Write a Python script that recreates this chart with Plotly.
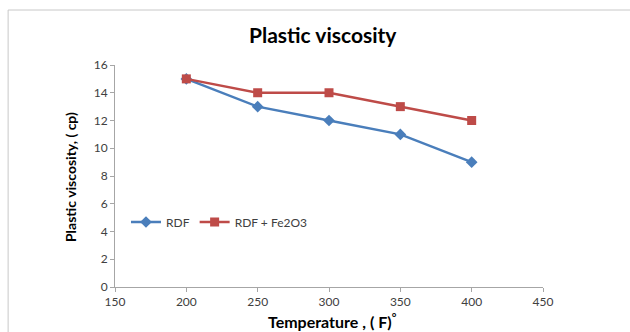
import plotly.graph_objects as go

temps = [200, 250, 300, 350, 400]
rdf = [15, 13, 12, 11, 9]
rdf_fe2o3 = [15, 14, 14, 13, 12]
series_names = ["RDF", "RDF + Fe2O3"]
y_ticks = [0, 2, 4, 6, 8, 10, 12, 14, 16]
x_ticks = [150, 200, 250, 300, 350, 400, 450]

fig = go.Figure()
fig.add_trace(go.Scatter(x=temps, y=rdf, mode="lines+markers", name=series_names[0],
                         line=dict(color="#4a7ebb", width=2.5),
                         marker=dict(symbol="diamond", size=9, color="#4a7ebb")))
fig.add_trace(go.Scatter(x=temps, y=rdf_fe2o3, mode="lines+markers", name=series_names[1],
                         line=dict(color="#be4b48", width=2.5),
                         marker=dict(symbol="square", size=9, color="#be4b48")))

L, R, T, B = 115, 86.5, 65, 45
W, H = 630, 332
pw, ph = W - L - R, H - T - B

def px(x):
    return (x - L) / pw

def py(y):
    return (H - B - y) / ph

font = "Lato, 'Open Sans', sans-serif"
fig.update_layout(
    width=W, height=H,
    margin=dict(l=L, r=R, t=T, b=B),
    paper_bgcolor="white", plot_bgcolor="white",
    font=dict(family=font, color="#404040", size=12),
    showlegend=True,
    legend=dict(orientation="h", x=px(126), y=py(222), xanchor="left", yanchor="middle",
                font=dict(size=12, color="#404040"), bgcolor="rgba(0,0,0,0)",
                itemwidth=30, tracegroupgap=0),
    xaxis=dict(range=[150, 450], tickvals=x_ticks, showgrid=False, zeroline=False,
               showline=True, linecolor="#a6a6a6", linewidth=1,
               ticks="outside", ticklen=4, tickcolor="#a6a6a6",
               tickfont=dict(size=12, color="#404040")),
    yaxis=dict(range=[0, 16], tickvals=y_ticks, showgrid=False, zeroline=False,
               showline=True, linecolor="#a6a6a6", linewidth=1,
               ticks="outside", ticklen=4, tickcolor="#a6a6a6",
               tickfont=dict(size=12, color="#404040")),
    shapes=[dict(type="rect", xref="paper", yref="paper",
                 x0=px(8), x1=px(660), y0=py(345), y1=py(10),
                 line=dict(color="#c8c8c8", width=1), fillcolor="rgba(0,0,0,0)", layer="below")],
    annotations=[
        dict(text="<b>Plastic viscosity</b>", xref="paper", yref="paper",
             x=px(323), y=py(34), xanchor="center", yanchor="middle", showarrow=False,
             font=dict(size=21, color="#000000", family=font)),
        dict(text="<b>Plastic viscosity, ( cp)</b>", xref="paper", yref="paper",
             x=px(70), y=py(177), xanchor="center", yanchor="middle", showarrow=False,
             textangle=-90, font=dict(size=14, color="#000000", family=font)),
        dict(text="<b>Temperature , ( F)<sup>°</sup></b>", xref="paper", yref="paper",
             x=px(333), y=py(320), xanchor="center", yanchor="middle", showarrow=False,
             font=dict(size=16, color="#000000", family=font)),
    ],
)

fig.write_html("out.html")
